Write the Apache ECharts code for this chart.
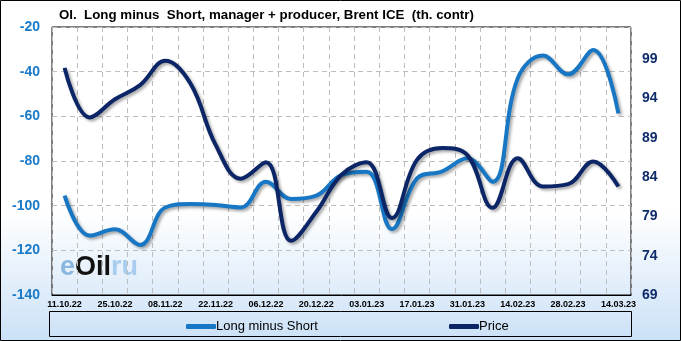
<!DOCTYPE html>
<html>
<head>
<meta charset="utf-8">
<script src="https://cdn.jsdelivr.net/npm/echarts@6/dist/echarts.min.js"></script>
<style>
html,body{margin:0;padding:0;background:#fff;}
#c{width:681px;height:341px;}
</style>
</head>
<body>
<div id="c"></div>
<script>
var categories = ['11.10.22','18.10.22','25.10.22','01.11.22','08.11.22','15.11.22','22.11.22','29.11.22','06.12.22','13.12.22','20.12.22','27.12.22','03.01.23','10.01.23','17.01.23','24.01.23','31.01.23','07.02.23','14.02.23','21.02.23','28.02.23','07.03.23','14.03.23'];
var longMinusShort = [-95.5,-113.4,-110.6,-117.6,-100.8,-99.3,-99.7,-100.8,-89.3,-97,-95.5,-86.3,-84.8,-110.5,-87.8,-84.6,-78.8,-89.3,-43,-32.8,-41.2,-30.3,-58.7];
var price = [97.9,91.6,93.9,95.7,98.8,95.9,88.1,83.8,85.9,75.9,79.6,84.3,85.9,78.8,86.2,87.7,86.8,80.1,86.4,82.8,83.1,86,82.8];
var leftTicks = {min:-140, max:-20, interval:20};
var rightTicks = {min:69, max:103.1, interval:5};

var chart = echarts.init(document.getElementById('c'), null, {renderer:'canvas'});
var blue = '#1777c4', navy = '#0b2566';
var shadow = {shadowColor:'rgba(0,0,0,0.35)', shadowBlur:3, shadowOffsetX:2, shadowOffsetY:2};
chart.setOption({
  animation:false,
  backgroundColor:{type:'linear',x:0,y:0,x2:0,y2:1,colorStops:[{offset:0,color:'#ffffff'},{offset:0.62,color:'#ffffff'},{offset:1,color:'#cbe1f7'}]},
  title:{text:'OI.  Long minus  Short, manager + producer, Brent ICE  (th. contr)', left:54, top:4,
    textStyle:{fontFamily:'Liberation Sans', fontWeight:'bold', fontSize:13.3, color:'#000'}},
  grid:{left:52, right:50, top:27, bottom:46, show:true, borderColor:'#000', borderWidth:1, backgroundColor:'transparent'},
  legend:[
    {data:['Long minus Short'], left:181, top:315, itemWidth:30, itemHeight:5, icon:'roundRect', itemGap:4,
      textStyle:{fontFamily:'Liberation Sans', fontSize:13, color:'#000', padding:[0,0,0,-5]}},
    {data:['Price'], left:444, top:315, itemWidth:30, itemHeight:5, icon:'roundRect',
      textStyle:{fontFamily:'Liberation Sans', fontSize:13, color:'#000', padding:[0,0,0,-5]}}
  ],
  xAxis:{type:'category', data:categories, boundaryGap:true,
    axisLine:{show:true, lineStyle:{color:'#000'}}, axisTick:{show:false},
    axisLabel:{interval:1, margin:5, fontFamily:'Liberation Sans', fontWeight:'bold', fontSize:9, color:'#000'},
    splitLine:{show:true, interval:0, lineStyle:{color:'#bdbdbd', type:[5,4]}}},
  yAxis:[
    {type:'value', min:leftTicks.min, max:leftTicks.max, interval:leftTicks.interval, position:'left',
      axisLine:{show:false}, axisTick:{show:false},
      axisLabel:{margin:12, fontFamily:'Liberation Sans', fontWeight:'bold', fontSize:14, color:'#1a7ac8'},
      splitLine:{show:true, lineStyle:{color:'#bdbdbd', type:[5,4]}}},
    {type:'value', min:rightTicks.min, max:rightTicks.max, interval:rightTicks.interval, position:'right',
      axisLine:{show:false}, axisTick:{show:false},
      axisLabel:{margin:11, showMaxLabel:false, fontFamily:'Liberation Sans', fontWeight:'bold', fontSize:14, color:'#0f2b6b'},
      splitLine:{show:false}}
  ],
  graphic:[
    {type:'rect', shape:{x:49.5, y:311.5, width:582, height:25}, style:{fill:'transparent', stroke:'#000', lineWidth:1}, z:-1},
    {type:'rect', shape:{x:0.5, y:0.5, width:680, height:340}, style:{fill:'transparent', stroke:'#000', lineWidth:1}, z:-1},
    {type:'text', left:60, top:254, z:-2, style:{
      text:'{e|e}{o|Oil}{r|ru}',
      rich:{e:{fontFamily:'Liberation Sans', fontSize:27, fontWeight:'bold', fill:'#8ab7e0'},
            o:{fontFamily:'Liberation Sans', fontSize:27, fontWeight:'bold', fill:'#111'},
            r:{fontFamily:'Liberation Sans', fontSize:27, fontWeight:'bold', fill:'#a9cdee'}}}}
  ],
  series:[
    {name:'Long minus Short', type:'line', yAxisIndex:0, data:longMinusShort, smooth:0.4, symbol:'none',
      color:blue, lineStyle:Object.assign({width:4, color:blue}, shadow)},
    {name:'Price', type:'line', yAxisIndex:1, data:price, smooth:0.4, symbol:'none',
      color:navy, lineStyle:Object.assign({width:4, color:navy}, shadow)}
  ]
});
</script>
</body>
</html>
